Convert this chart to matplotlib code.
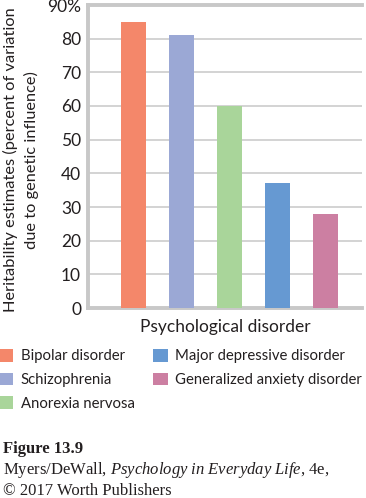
import matplotlib
matplotlib.use("Agg")
import matplotlib.pyplot as plt
from matplotlib.patches import Patch

# heritability estimates
disorders = ["Bipolar disorder", "Schizophrenia", "Anorexia nervosa",
             "Major depressive disorder", "Generalized anxiety disorder"]
heritability = [85, 81, 60, 37, 28]
bar_colors = ["#f4876a", "#9ba8d5", "#a9d59a", "#6699d2", "#cc7fa2"]
ytick_vals = [0, 10, 20, 30, 40, 50, 60, 70, 80, 90]
ytick_labels = ["0", "10", "20", "30", "40", "50", "60", "70", "80", "90%"]

W, H = 366, 498
plt.rcParams["font.family"] = ["Lato", "DejaVu Sans"]
plt.rcParams["mathtext.fontset"] = "custom"
plt.rcParams["mathtext.rm"] = "Liberation Serif"
plt.rcParams["mathtext.it"] = "Liberation Serif:italic"

fig = plt.figure(figsize=(W / 100, H / 100), dpi=100)
ax = fig.add_axes([88 / W, 1 - 308 / H, 274 / W, 303 / H])

x = list(range(len(disorders)))
ax.bar(x, heritability, width=0.52, color=bar_colors, zorder=3)
ax.set_xlim(-0.95, 4.76)
ax.set_ylim(0, 90)
ax.set_yticks(ytick_vals)
ax.set_yticklabels(ytick_labels, fontsize=12.5, color="#231f20")
ax.set_xticks([])
ax.tick_params(axis="y", length=0, pad=5)
ax.yaxis.grid(True, color="#cccccc", lw=1.2, zorder=0)

grey = "#c8c8c8"
for side in ["left", "bottom", "top"]:
    ax.spines[side].set_color(grey)
    ax.spines[side].set_linewidth(2.8)
ax.spines["right"].set_visible(False)

ax.set_xlabel("Psychological disorder", fontsize=12.5, color="#231f20", labelpad=8)

# two-line y label, sized so the long first line just fits the figure height
fig.text(21 / W, 1 - 160 / H,
         "Heritability estimates (percent of variation\ndue to genetic influence)",
         rotation=90, ha="center", va="center", multialignment="center",
         fontsize=11.8, color="#231f20", linespacing=1.45)

handles = [Patch(facecolor=c, edgecolor="none") for c in bar_colors]
fig.legend(handles, disorders, loc="upper left", bbox_to_anchor=(-0.004, 1 - 349 / H),
           ncol=2, frameon=False, fontsize=10.7, handlelength=1.0, handleheight=0.92,
           handletextpad=0.5, columnspacing=1.2, labelspacing=0.62, borderaxespad=0,
           borderpad=0, labelcolor="#231f20")

serif = ["Liberation Serif", "DejaVu Serif"]
fig.text(3 / W, 1 - 449 / H, "Figure 13.9", family=serif, fontweight="bold",
         fontsize=12, va="center", color="#231f20")
fig.text(3 / W, 1 - 470 / H,
         "Myers/DeWall, $\\mathit{Psychology\\ in\\ Everyday\\ Life}$, 4e,",
         family=serif, fontsize=12, va="center", color="#231f20")
fig.text(3 / W, 1 - 491 / H, "\u00a9 2017 Worth Publishers", family=serif,
         fontsize=12, va="center", color="#231f20")

fig.savefig("out.png", dpi=100)
